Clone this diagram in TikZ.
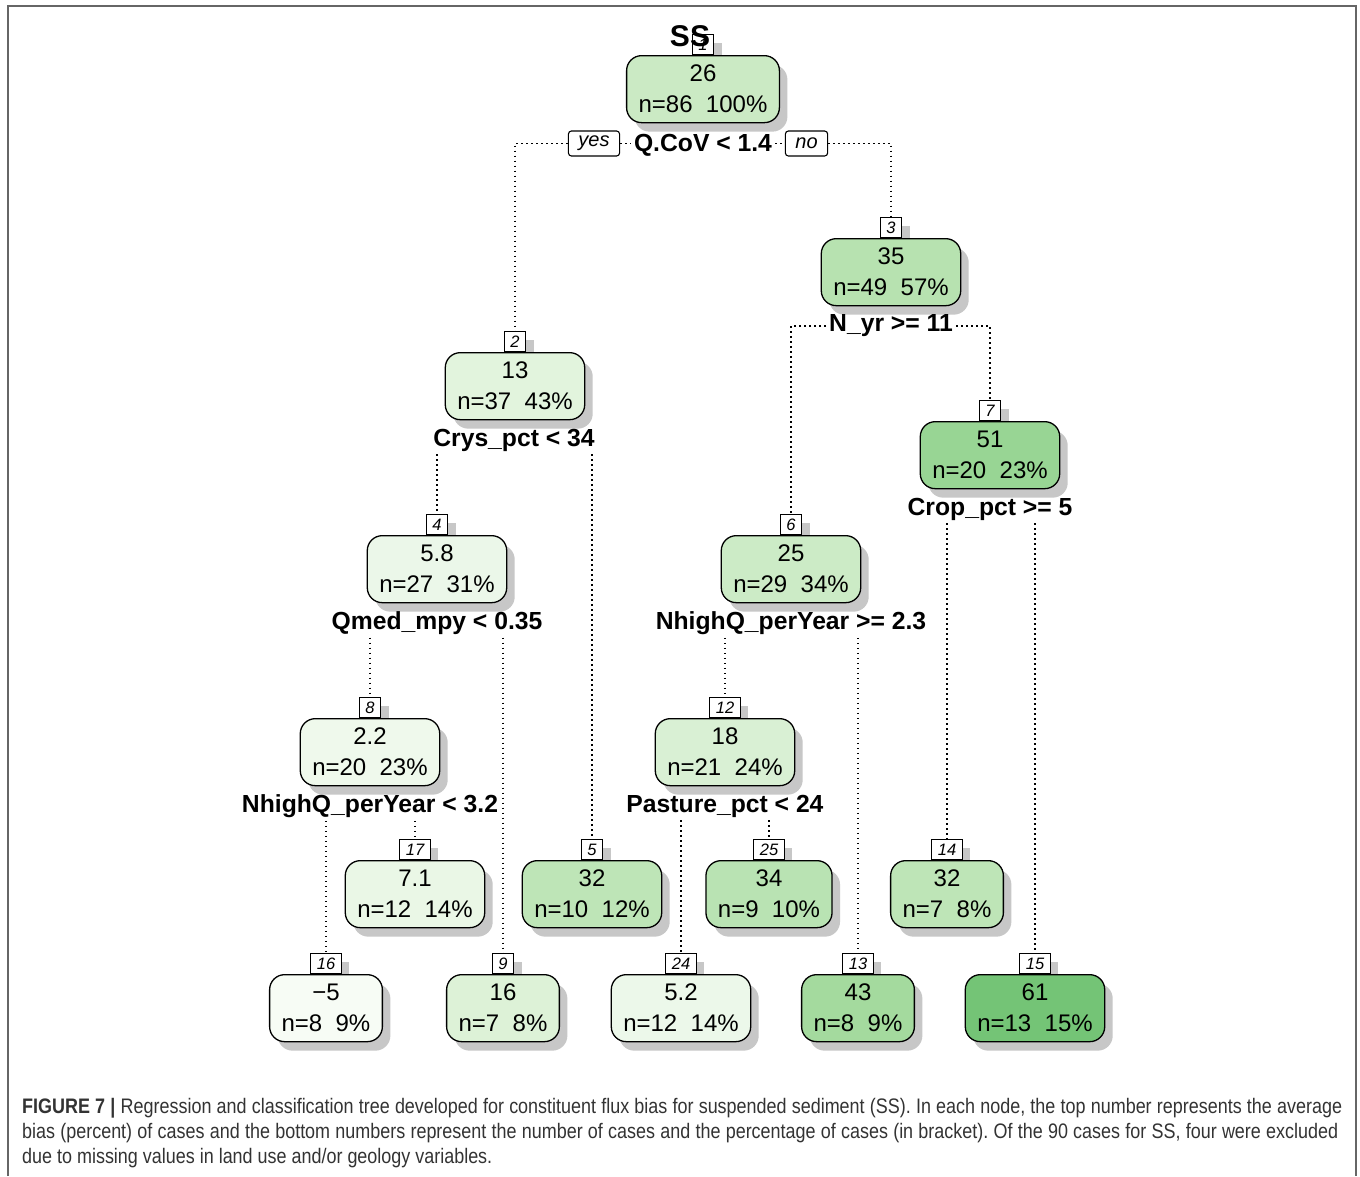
\documentclass[tikz,border=0pt]{standalone}
\usepackage{fontspec}
\setmainfont{Liberation Sans}
\newfontfamily\capfont[FakeStretch=0.855]{Liberation Sans}
\usetikzlibrary{shadows}
\definecolor{c26}{RGB}{203,234,196}
\definecolor{c35}{RGB}{183,226,176}
\definecolor{c13}{RGB}{226,244,221}
\definecolor{c51}{RGB}{152,213,148}
\definecolor{c58}{RGB}{235,247,233}
\definecolor{c25}{RGB}{204,235,198}
\definecolor{c22}{RGB}{239,249,236}
\definecolor{c18}{RGB}{217,240,212}
\definecolor{c71}{RGB}{234,247,230}
\definecolor{c32}{RGB}{190,229,183}
\definecolor{c34}{RGB}{185,227,179}
\definecolor{cm5}{RGB}{247,252,245}
\definecolor{c16}{RGB}{221,242,215}
\definecolor{c52}{RGB}{236,248,234}
\definecolor{c43}{RGB}{164,218,158}
\definecolor{c61}{RGB}{116,196,118}
\newcommand\nsp{\hspace{0.556em}}
\frenchspacing
\tikzset{
  shad/.style={drop shadow={shadow xshift=8pt, shadow yshift=-9pt, fill=black!22, opacity=1}},
  treebox/.style={draw=black, line width=1.3pt, rounded corners=15pt, align=center,
    font=\fontsize{24}{31}\selectfont, inner xsep=12pt, inner ysep=0pt, minimum height=67pt, shad},
  numlab/.style={draw=black, line width=1.1pt, fill=white, font=\fontsize{16.5}{16.5}\selectfont\itshape,
    inner xsep=6pt, inner ysep=0pt, minimum height=20pt, shad},
  splitlab/.style={font=\fontsize{24.7}{24.7}\selectfont\bfseries, inner sep=3pt},
  yesno/.style={draw=black, line width=1.1pt, rounded corners=3pt, fill=white,
    font=\fontsize{20}{20}\selectfont\itshape, inner xsep=10pt, inner ysep=0pt, minimum height=25pt},
  conn/.style={line width=1.6pt, dash pattern=on 1.6pt off 3.4pt},
  capline/.style={anchor=base west, inner sep=0pt, font=\capfont\fontsize{21}{25}\selectfont, text=black!80}
}
\newcommand\tnode[6]{%
  \node[numlab, anchor=south] (l#1) at (#2,#3) {#1};
  \node[treebox, fill=#4, anchor=north] (n#1) at (#2,#3) {#5\\#6};
}
\begin{document}
\begin{tikzpicture}[x=1pt,y=-1pt]
\useasboundingbox (0,0) rectangle (1360,1176);
\fill[white] (0,0) rectangle (1360,1176);
\draw[line width=2pt, black!60] (8,1176) -- (8,6) -- (1356,6) -- (1356,1176);

\tnode{1}{703}{55}{c26}{26}{n=86\nsp 100\%}
\tnode{3}{891}{238}{c35}{35}{n=49\nsp 57\%}
\tnode{2}{515}{352}{c13}{13}{n=37\nsp 43\%}
\tnode{7}{990}{421}{c51}{51}{n=20\nsp 23\%}
\tnode{4}{437}{535}{c58}{5.8}{n=27\nsp 31\%}
\tnode{6}{791}{535}{c25}{25}{n=29\nsp 34\%}
\tnode{8}{370}{718}{c22}{2.2}{n=20\nsp 23\%}
\tnode{12}{725}{718}{c18}{18}{n=21\nsp 24\%}
\tnode{17}{415}{860}{c71}{7.1}{n=12\nsp 14\%}
\tnode{5}{592}{860}{c32}{32}{n=10\nsp 12\%}
\tnode{25}{769}{860}{c34}{34}{n=9\nsp 10\%}
\tnode{14}{947}{860}{c32}{32}{n=7\nsp 8\%}
\tnode{16}{326}{974}{cm5}{−5}{n=8\nsp 9\%}
\tnode{9}{503}{974}{c16}{16}{n=7\nsp 8\%}
\tnode{24}{681}{974}{c52}{5.2}{n=12\nsp 14\%}
\tnode{13}{858}{974}{c43}{43}{n=8\nsp 9\%}
\tnode{15}{1035}{974}{c61}{61}{n=13\nsp 15\%}

\node[font=\fontsize{30}{30}\selectfont\bfseries, inner sep=0pt] (title) at (690,36) {SS};

\node[splitlab] (s1) at (703,145) {Q.CoV < 1.4};
\node[yesno] (yes) at (594,143.5) {yes};
\node[yesno] (no) at (806.5,143.5) {no};
\node[splitlab] (s3) at (891,326) {N\_yr >= 11};
\node[splitlab] (s2) at (514,440) {Crys\_pct < 34};
\node[splitlab] (s7) at (990,509) {Crop\_pct >= 5};
\node[splitlab] (s4) at (437,623) {Qmed\_mpy < 0.35};
\node[splitlab] (s6) at (791,623) {NhighQ\_perYear >= 2.3};
\node[splitlab] (s8) at (370,806) {NhighQ\_perYear < 3.2};
\node[splitlab] (s12) at (725,806) {Pasture\_pct < 24};

\draw[conn] (yes.west) -| (l2.north);
\draw[conn] (no.east) -| (l3.north);
\draw[conn] (yes.east) -- (yes.east -| s1.west);
\draw[conn] (no.west -| s1.east) -- (no.west);
\draw[conn] (s3.west) -| (l6.north);
\draw[conn] (s3.east) -| (l7.north);
\draw[conn] (l4.north |- s2.south) -- (l4.north);
\draw[conn] (l5.north |- s2.south) -- (l5.north);
\draw[conn] (l14.north |- s7.south) -- (l14.north);
\draw[conn] (l15.north |- s7.south) -- (l15.north);
\draw[conn] (l8.north |- s4.south) -- (l8.north);
\draw[conn] (l9.north |- s4.south) -- (l9.north);
\draw[conn] (l12.north |- s6.south) -- (l12.north);
\draw[conn] (l13.north |- s6.south) -- (l13.north);
\draw[conn] (l16.north |- s8.south) -- (l16.north);
\draw[conn] (l17.north |- s8.south) -- (l17.north);
\draw[conn] (l24.north |- s12.south) -- (l24.north);
\draw[conn] (l25.north |- s12.south) -- (l25.north);

\node[capline] (cap1) at (22,1113) {\makebox[1320pt][s]{\textbf{FIGURE 7 |} Regression and classification tree developed for constituent flux bias for suspended sediment (SS). In each node, the top number represents the average}};
\node[capline] (cap2) at (22,1138) {\makebox[1316pt][s]{bias (percent) of cases and the bottom numbers represent the number of cases and the percentage of cases (in bracket). Of the 90 cases for SS, four were excluded}};
\node[capline] (cap3) at (22,1163) {due to missing values in land use and/or geology variables.};
\end{tikzpicture}
\end{document}
